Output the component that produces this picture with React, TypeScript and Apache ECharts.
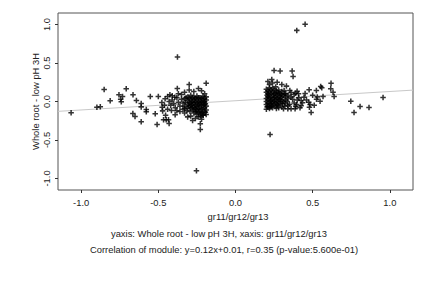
import React, { useEffect, useRef } from "react";
import * as echarts from "echarts";

const xTicks = [-1.0, -0.5, 0.0, 0.5, 1.0];
const yTicks = [-1.0, -0.5, 0.0, 0.5, 1.0];
const xLabel = "gr11/gr12/gr13";
const yLabel = "Whole root - low pH 3H";
const subtitle1 = "yaxis: Whole root - low pH 3H, xaxis: gr11/gr12/gr13";
const subtitle2 = "Correlation of module: y=0.12x+0.01, r=0.35 (p-value:5.600e-01)";
const fitSlope = 0.12;
const fitIntercept = 0.01;

const leftSparse: [number, number][] = [
  [-1.065, -0.147], [-0.851, 0.156], [-0.898, -0.076], [-0.876, -0.067], [-0.812, 0.011],
  [-0.708, 0.167], [-0.755, 0.089], [-0.732, 0.065], [-0.744, 0.03], [-0.74, -0.002],
  [-0.664, 0.089], [-0.642, 0.013], [-0.665, -0.156], [-0.651, -0.195], [-0.611, -0.026],
  [-0.611, -0.07], [-0.578, -0.104], [-0.578, -0.132], [-0.611, -0.262], [-0.552, 0.065],
  [-0.52, -0.158], [-0.508, -0.3], [-0.5, 0.065], [-0.477, -0.012], [-0.475, -0.074],
  [-0.472, -0.122], [-0.466, -0.236], [-0.449, -0.236], [-0.434, -0.236], [-0.43, -0.287],
  [-0.456, 0.035], [-0.44, 0.065], [-0.425, 0.087], [-0.41, 0.074], [-0.393, 0.056],
  [-0.376, 0.577], [-0.377, 0.169], [-0.3, 0.22], [-0.19, 0.236], [-0.253, -0.9],
  [-0.228, -0.29], [-0.228, -0.363], [-0.278, -0.247], [-0.391, -0.173], [-0.415, -0.117],
  [-0.453, -0.18], [-0.41, 0.02], [-0.4, -0.03], [-0.39, -0.08], [-0.38, 0.05],
  [-0.37, -0.01], [-0.36, -0.06], [-0.36, -0.13], [-0.35, 0.09], [-0.35, 0.03],
  [-0.34, -0.02], [-0.34, -0.1], [-0.33, 0.12], [-0.33, -0.15], [-0.32, 0.05],
  [-0.37, 0.1], [-0.42, -0.05], [-0.38, -0.12], [-0.31, -0.2], [-0.3, 0.15],
  [-0.27, 0.13], [-0.24, 0.17], [-0.22, 0.14], [-0.2, 0.1], [-0.26, -0.22],
  [-0.24, -0.2], [-0.22, -0.23], [-0.21, -0.18], [-0.29, -0.19], [-0.46, -0.05],
  [-0.44, -0.1], [-0.43, 0.0],
];

const leftDense: [number, number][] = [
  [-0.19, 0.06], [-0.19, 0.02], [-0.195, -0.03], [-0.19, -0.06], [-0.19, -0.11], [-0.195, -0.14], [-0.19, -0.17],
  [-0.21, 0.07], [-0.21, 0.03], [-0.205, -0.01], [-0.21, -0.05], [-0.21, -0.09], [-0.215, -0.14], [-0.21, -0.18],
  [-0.23, 0.05], [-0.225, 0.01], [-0.23, -0.03], [-0.235, -0.07], [-0.23, -0.11], [-0.23, -0.15], [-0.225, -0.19],
  [-0.25, 0.07], [-0.25, 0.03], [-0.245, -0.02], [-0.25, -0.06], [-0.255, -0.1], [-0.25, -0.13], [-0.25, -0.17],
  [-0.27, 0.06], [-0.265, 0.02], [-0.27, -0.02], [-0.27, -0.07], [-0.275, -0.11], [-0.27, -0.15],
  [-0.29, 0.08], [-0.29, 0.03], [-0.285, -0.01], [-0.29, -0.05], [-0.29, -0.09], [-0.295, -0.13],
  [-0.31, 0.06], [-0.31, 0.01], [-0.305, -0.04], [-0.31, -0.08], [-0.315, -0.12],
  [-0.33, 0.04], [-0.325, -0.01], [-0.33, -0.06], [-0.33, -0.09],
  [-0.2, 0.04], [-0.2, 0.0], [-0.2, -0.04], [-0.2, -0.08], [-0.2, -0.13],
  [-0.22, 0.04], [-0.22, -0.01], [-0.22, -0.05], [-0.22, -0.1], [-0.22, -0.16],
  [-0.24, 0.05], [-0.24, 0.0], [-0.24, -0.04], [-0.24, -0.09], [-0.24, -0.14],
  [-0.26, 0.04], [-0.26, -0.01], [-0.26, -0.05], [-0.26, -0.09], [-0.26, -0.13],
  [-0.28, 0.05], [-0.28, 0.0], [-0.28, -0.04], [-0.28, -0.08],
  [-0.3, 0.04], [-0.3, -0.02], [-0.3, -0.06],
];

const rightSparse: [number, number][] = [
  [0.397, 0.924], [0.451, 1.003], [0.25, 0.404], [0.289, 0.395], [0.367, 0.395],
  [0.373, 0.326], [0.235, 0.286], [0.224, -0.43], [0.619, 0.238], [0.617, 0.165],
  [0.632, 0.121], [0.639, 0.065], [0.552, 0.195], [0.559, 0.178], [0.524, 0.143],
  [0.477, 0.152], [0.567, 0.065], [0.548, 0.004], [0.53, 0.06], [0.525, 0.03],
  [0.49, -0.143], [0.479, -0.074], [0.483, -0.04], [0.475, -0.01], [0.425, 0.013],
  [0.434, -0.017], [0.444, 0.056], [0.451, 0.104], [0.399, 0.134], [0.408, 0.1],
  [0.389, 0.108], [0.38, 0.09], [0.352, 0.143], [0.36, 0.117], [0.315, 0.143],
  [0.326, 0.1], [0.311, -0.095], [0.339, -0.095], [0.36, -0.095], [0.386, -0.095],
  [0.418, -0.082], [0.425, -0.056], [0.397, -0.04], [0.39, -0.065], [0.747, 0.004],
  [0.768, -0.143], [0.807, -0.065], [0.865, -0.078], [0.956, 0.052], [0.37, 0.03],
  [0.38, -0.02], [0.4, 0.02], [0.36, 0.06], [0.35, -0.04], [0.41, 0.05],
  [0.46, 0.02], [0.5, 0.08], [0.51, -0.05], [0.33, 0.2], [0.3, 0.22],
  [0.27, 0.25], [0.22, 0.22], [0.21, 0.26], [0.24, 0.24],
];

const rightDense: [number, number][] = [
  [0.2, 0.16], [0.2, 0.12], [0.205, 0.08], [0.2, 0.04], [0.2, 0.0], [0.2, -0.04], [0.205, -0.07], [0.2, -0.1],
  [0.22, 0.18], [0.22, 0.13], [0.215, 0.09], [0.22, 0.05], [0.225, 0.01], [0.22, -0.03], [0.22, -0.07], [0.22, -0.09],
  [0.24, 0.17], [0.24, 0.12], [0.245, 0.08], [0.24, 0.03], [0.24, -0.01], [0.235, -0.05], [0.24, -0.08],
  [0.26, 0.19], [0.265, 0.14], [0.26, 0.1], [0.26, 0.06], [0.255, 0.02], [0.26, -0.02], [0.26, -0.06], [0.265, -0.09],
  [0.28, 0.15], [0.28, 0.11], [0.285, 0.07], [0.28, 0.03], [0.28, -0.01], [0.275, -0.05], [0.28, -0.08],
  [0.3, 0.13], [0.3, 0.09], [0.295, 0.05], [0.3, 0.01], [0.305, -0.03], [0.3, -0.07],
  [0.32, 0.1], [0.32, 0.06], [0.325, 0.02], [0.32, -0.02], [0.32, -0.06],
  [0.34, 0.08], [0.34, 0.04], [0.335, 0.0], [0.34, -0.05],
  [0.21, 0.14], [0.21, 0.1], [0.21, 0.06], [0.21, 0.02], [0.21, -0.02], [0.21, -0.06],
  [0.23, 0.15], [0.23, 0.1], [0.23, 0.06], [0.23, 0.01], [0.23, -0.03], [0.23, -0.07],
  [0.25, 0.15], [0.25, 0.1], [0.25, 0.05], [0.25, 0.0], [0.25, -0.04],
  [0.27, 0.12], [0.27, 0.08], [0.27, 0.04], [0.27, 0.0], [0.27, -0.04],
  [0.29, 0.1], [0.29, 0.03], [0.29, -0.03],
  [0.31, 0.08], [0.31, 0.0],
];

const X_MIN = -1.15;
const X_MAX = 1.15;
const Y_MIN = -1.15;
const Y_MAX = 1.15;

const FONT = "'Liberation Sans', Arial, sans-serif";
const FS = 9.4;
const PLUS = "path://M1.8,0h1.4v1.8h1.8v1.4h-1.8v1.8h-1.4v-1.8h-1.8v-1.4h1.8z";

export default function App() {
  const ref = useRef<HTMLDivElement>(null);
  useEffect(() => {
    if (!ref.current) return;
    const chart = echarts.init(ref.current, undefined, { renderer: "svg" });
    const allPoints = [...leftSparse, ...leftDense, ...rightSparse, ...rightDense];
    const fitLine = [
      [X_MIN, fitSlope * X_MIN + fitIntercept],
      [X_MAX, fitSlope * X_MAX + fitIntercept],
    ];
    const textStyle = (text: string) => ({
      text,
      fontSize: FS,
      fontFamily: FONT,
      fill: "#222",
      align: "center",
      verticalAlign: "middle",
    });
    chart.setOption({
      animation: false,
      backgroundColor: "#ffffff",
      grid: {
        left: 58,
        right: 19,
        top: 13,
        bottom: 98,
        show: true,
        borderColor: "#555",
        borderWidth: 1,
        backgroundColor: "transparent",
      },
      xAxis: {
        type: "value",
        min: X_MIN,
        max: X_MAX,
        axisLine: { show: false, onZero: false },
        splitLine: { show: false },
        axisTick: {
          show: true,
          customValues: xTicks,
          length: 3,
          lineStyle: { color: "#333", width: 1 },
        },
        axisLabel: {
          customValues: xTicks,
          formatter: (v: number) => v.toFixed(1),
          fontSize: FS,
          color: "#222",
          fontFamily: FONT,
          margin: 8,
        },
      },
      yAxis: {
        type: "value",
        min: Y_MIN,
        max: Y_MAX,
        axisLine: { show: false, onZero: false },
        splitLine: { show: false },
        axisTick: {
          show: true,
          customValues: yTicks,
          length: 3,
          lineStyle: { color: "#333", width: 1 },
        },
        axisLabel: {
          customValues: yTicks,
          formatter: (v: number) => v.toFixed(1),
          fontSize: FS,
          color: "#222",
          fontFamily: FONT,
          rotate: 90,
          margin: 7,
        },
      },
      series: [
        {
          type: "line",
          data: fitLine,
          symbol: "none",
          lineStyle: { color: "#c8c8c8", width: 1 },
          z: 1,
        },
        {
          type: "scatter",
          data: allPoints,
          symbol: PLUS,
          symbolSize: 5.5,
          itemStyle: { color: "#000" },
          z: 2,
        },
      ],
      graphic: [
        { type: "text", x: 35, y: 101.5, rotation: Math.PI / 2, style: textStyle(yLabel) },
        { type: "text", x: 238, y: 216, style: textStyle(xLabel) },
        { type: "text", x: 219, y: 233, style: textStyle(subtitle1) },
        { type: "text", x: 224, y: 249.5, style: textStyle(subtitle2) },
      ],
    });
    return () => chart.dispose();
  }, []);
  return (
    <div
      ref={ref}
      style={{ position: "absolute", left: 0, top: 0, width: 432, height: 288, background: "#fff" }}
    />
  );
}
